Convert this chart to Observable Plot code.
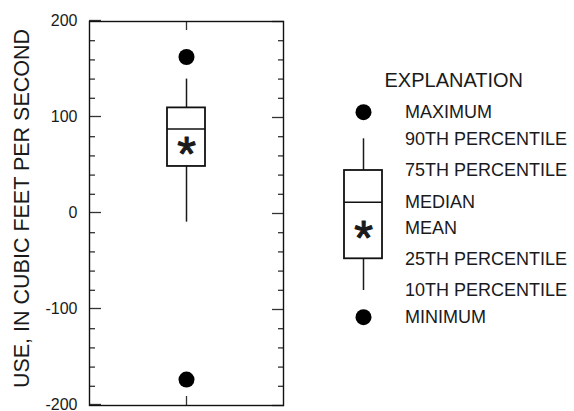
<!DOCTYPE html>
<html><head><meta charset="utf-8">
<script src="https://cdn.jsdelivr.net/npm/d3@7"></script>
<script src="https://cdn.jsdelivr.net/npm/@observablehq/plot@0.6"></script>
<style>
html,body{margin:0;padding:0;background:#fff;}
#chart{position:relative;width:574px;height:411px;overflow:hidden;}
#chart svg{position:absolute;left:0;top:0;}
</style></head><body><div id="chart"></div>
<script>
// ---- data ----
const category = ["Use"];
const maximum = [163];
const p90 = [140];
const q3 = [110];
const median = [88];
const mean = [73];
const q1 = [49];
const p10 = [-9];
const minimum = [-173];

const yMajorTicks = [-200, -100, 0, 100, 200];
const yMinorTicks = [-180, -160, -140, -120, -80, -60, -40, -20, 20, 40, 60, 80, 120, 140, 160, 180];
const yLabel = "USE, IN CUBIC FEET PER SECOND";

// schematic legend (explanation) box: levels in legend units
const legendTitle = "EXPLANATION";
const legendTitleLevel = [237];
const legendLabels = ["MAXIMUM", "90TH PERCENTILE", "75TH PERCENTILE", "MEDIAN", "MEAN", "25TH PERCENTILE", "10TH PERCENTILE", "MINIMUM"];
const legendLevels = [205, 178.4, 146.7, 115, 89.4, 58.4, 26.7, 0];
const legendKey = ["key"];

// ---- tables built from the arrays ----
const stats = category.map((c, i) => ({
  category: c, max: maximum[i], p90: p90[i], q3: q3[i], median: median[i],
  mean: mean[i], q1: q1[i], p10: p10[i], min: minimum[i]
}));
const lg = {category: legendKey[0], max: legendLevels[0], p90: legendLevels[1], q3: legendLevels[2],
  median: legendLevels[3], mean: legendLevels[4], q1: legendLevels[5], p10: legendLevels[6], min: legendLevels[7]};
const legendRows = legendLabels.map((label, i) => ({label, value: legendLevels[i], key: legendKey[0]}));

const FONT = "'Liberation Sans', Arial, Helvetica, sans-serif";
const INK = "#1a1a1a";

const main = Plot.plot({
  width: 574, height: 411,
  marginLeft: 89, marginRight: 291, marginTop: 21, marginBottom: 6,
  style: {fontFamily: FONT, fontSize: "16px", color: INK, background: "transparent"},
  x: {type: "band", domain: category, padding: 0, axis: null, label: null},
  y: {domain: [-200, 200], axis: null, label: null},
  marks: [
    Plot.axisY(yMinorTicks, {anchor: "left", tickSize: -6, tickFormat: () => "", label: null, stroke: "#333", strokeWidth: 1.3}),
    Plot.axisY(yMinorTicks, {anchor: "right", tickSize: -6, tickFormat: () => "", label: null, stroke: "#333", strokeWidth: 1.3}),
    Plot.axisY(yMajorTicks, {anchor: "left", tickSize: -12, tickPadding: 24, tickFormat: d => String(d), label: null, stroke: "#333", strokeWidth: 1.3, fontSize: 16, fill: INK, dy: -1}),
    Plot.axisY(yMajorTicks, {anchor: "right", tickSize: -12, tickFormat: () => "", label: null, stroke: "#333", strokeWidth: 1.3}),
    Plot.axisX(category, {anchor: "top", tickSize: -8, tickFormat: () => "", label: null, stroke: "#333", strokeWidth: 1.3}),
    Plot.axisX(category, {anchor: "bottom", tickSize: -9, tickFormat: () => "", label: null, stroke: "#333", strokeWidth: 1.3}),
    Plot.frame({stroke: "#111", strokeWidth: 1.4}),
    Plot.ruleX(stats, {x: "category", y1: "q3", y2: "p90", stroke: INK, strokeWidth: 1.5}),
    Plot.ruleX(stats, {x: "category", y1: "p10", y2: "q1", stroke: INK, strokeWidth: 1.5}),
    Plot.barY(stats, {x: "category", y1: "q1", y2: "q3", fill: "white", stroke: "#111", strokeWidth: 1.8, insetLeft: 78, insetRight: 78}),
    Plot.tickY(stats, {x: "category", y: "median", inset: 78, stroke: "#111", strokeWidth: 1.6}),
    Plot.text(stats, {x: "category", y: "mean", text: () => "*", fontSize: 48, fill: INK, stroke: INK, strokeWidth: 1.1, dy: 11}),
    Plot.dot(stats, {x: "category", y: "max", r: 8, fill: "black", stroke: "none"}),
    Plot.dot(stats, {x: "category", y: "min", r: 8, fill: "black", stroke: "none"}),
    Plot.text([yLabel], {frameAnchor: "left", text: d => d, rotate: -90, textAnchor: "middle", lineAnchor: "middle", dx: -67, dy: -5, fontSize: 21.5, fill: INK})
  ]
});

const legend = Plot.plot({
  width: 574, height: 411, margin: 0,
  style: {fontFamily: FONT, fontSize: "18px", color: INK, background: "transparent"},
  x: {type: "band", domain: legendKey, range: [343.5, 381.5], padding: 0, axis: null, label: null},
  y: {domain: [0, 205], range: [316.7, 111.7], axis: null, label: null},
  marks: [
    Plot.ruleX([lg], {x: "category", y1: "q3", y2: "p90", stroke: INK, strokeWidth: 1.5}),
    Plot.ruleX([lg], {x: "category", y1: "p10", y2: "q1", stroke: INK, strokeWidth: 1.5}),
    Plot.barY([lg], {x: "category", y1: "q1", y2: "q3", fill: "white", stroke: "#111", strokeWidth: 1.8}),
    Plot.tickY([lg], {x: "category", y: "median", stroke: "#111", strokeWidth: 1.6}),
    Plot.text([lg], {x: "category", y: "mean", text: () => "*", fontSize: 48, fill: INK, stroke: INK, strokeWidth: 1.1, dy: 11}),
    Plot.dot([lg], {x: "category", y: "max", r: 8, fill: "black", stroke: "none"}),
    Plot.dot([lg], {x: "category", y: "min", r: 8, fill: "black", stroke: "none"}),
    Plot.text(legendRows, {x: "key", y: "value", text: "label", textAnchor: "start", dx: 41.5, fontSize: 18, fill: INK}),
    Plot.text(legendTitleLevel, {x: () => legendKey[0], y: d => d, text: () => legendTitle, textAnchor: "start", dx: 21, fontSize: 20, fill: INK})
  ]
});

const root = document.getElementById("chart");
root.appendChild(main);
root.appendChild(legend);
</script>
</body></html>
